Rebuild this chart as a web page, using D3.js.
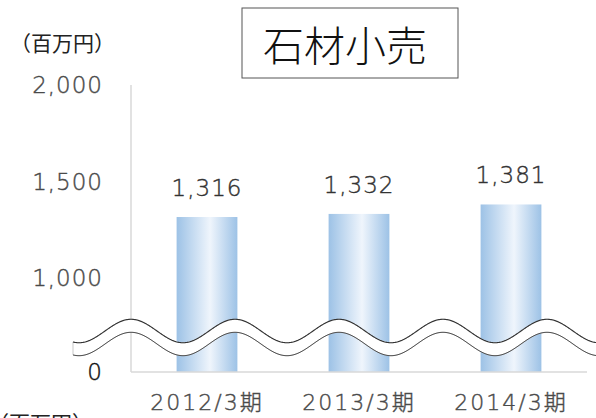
<!DOCTYPE html>
<html>
<head>
<meta charset="utf-8">
<script src="https://cdn.jsdelivr.net/npm/d3@7"></script>
<style>
  body { margin: 0; background: #fff; }
  svg { display: block; }
</style>
</head>
<body>
<div id="chart"></div>
<script>
// Chart data
const categories = ['2012/3期', '2013/3期', '2014/3期'];
const sales = [1316, 1332, 1381];
const tickValues = [0, 1000, 1500, 2000];
const tickLabels = ['0', '1,000', '1,500', '2,000'];
const title = '石材小売';
const unitLabel = '（百万円）';

const width = 596;
const height = 418;
const plot = { left: 131, right: 587, top: 85, bottom: 372 };

const svg = d3.select('#chart')
  .append('svg')
  .attr('width', width)
  .attr('height', height);

// Gradient for the bars
const grad = svg.append('defs').append('linearGradient')
  .attr('id', 'barGrad')
  .attr('x1', '0%').attr('x2', '100%')
  .attr('y1', '0%').attr('y2', '0%');
grad.append('stop').attr('offset', '0%').attr('stop-color', '#9dc2e6');
grad.append('stop').attr('offset', '55%').attr('stop-color', '#eff5fc');
grad.append('stop').attr('offset', '100%').attr('stop-color', '#9dc2e6');

// Scales (axis is broken between 0 and 1,000)
const xScale = d3.scaleBand()
  .domain(categories)
  .range([plot.left, plot.right])
  .paddingInner(0.6)
  .paddingOuter(0.3);

const yScale = d3.scaleLinear()
  .domain([0, 1000, 2000])
  .range([plot.bottom, 278, plot.top]);

const labelFont = '"DejaVu Sans", "Noto Sans CJK JP", sans-serif';

// Bars
svg.selectAll('.bar')
  .data(sales)
  .enter()
  .append('rect')
  .attr('class', 'bar')
  .attr('x', (d, i) => xScale(categories[i]))
  .attr('y', d => yScale(d))
  .attr('width', xScale.bandwidth())
  .attr('height', d => yScale(0) - yScale(d))
  .attr('fill', 'url(#barGrad)');

// Axis lines
svg.append('line')
  .attr('x1', plot.left).attr('x2', plot.left)
  .attr('y1', yScale(2000)).attr('y2', yScale(0))
  .attr('stroke', '#d9d9d9').attr('stroke-width', 1.5);
svg.append('line')
  .attr('x1', plot.left).attr('x2', plot.right)
  .attr('y1', yScale(0)).attr('y2', yScale(0))
  .attr('stroke', '#d9d9d9').attr('stroke-width', 1.5);

// Y tick labels
svg.selectAll('.ytick')
  .data(tickValues)
  .enter()
  .append('text')
  .attr('class', 'ytick')
  .attr('x', 103)
  .attr('y', d => yScale(d))
  .attr('dy', '0.36em')
  .attr('text-anchor', 'end')
  .attr('font-family', labelFont)
  .attr('font-weight', 200)
  .attr('font-size', 23)
  .attr('letter-spacing', 1)
  .attr('stroke', (d, i) => i === 0 ? '#111' : '#4a4a4a')
  .attr('stroke-width', 0.4)
  .attr('fill', (d, i) => i === 0 ? '#111' : '#4a4a4a')
  .text((d, i) => tickLabels[i]);

// X labels
svg.selectAll('.xlabel')
  .data(categories)
  .enter()
  .append('text')
  .attr('class', 'xlabel')
  .attr('x', d => xScale(d) + xScale.bandwidth() / 2)
  .attr('y', 410)
  .attr('text-anchor', 'middle')
  .attr('font-family', labelFont)
  .attr('font-weight', 200)
  .attr('font-size', 22)
  .attr('letter-spacing', 2)
  .attr('stroke', '#4a4a4a')
  .attr('stroke-width', 0.4)
  .attr('fill', '#4a4a4a')
  .text(d => d);

// Value labels
svg.selectAll('.value')
  .data(sales)
  .enter()
  .append('text')
  .attr('class', 'value')
  .attr('x', (d, i) => xScale(categories[i]) + xScale.bandwidth() / 2)
  .attr('y', d => yScale(d) - 21)
  .attr('text-anchor', 'middle')
  .attr('font-family', labelFont)
  .attr('font-weight', 200)
  .attr('font-size', 23)
  .attr('letter-spacing', 1)
  .attr('stroke', '#333')
  .attr('stroke-width', 0.4)
  .attr('fill', '#333')
  .text(d => d3.format(',')(d));

// Wave break mark
const period = 104;
const amp = 11.7;
const midY = 331;
const gap = 13;
const xs = d3.range(73, 601, 1);
const upper = xs.map(x => [x, midY - amp * Math.cos(2 * Math.PI * (x - plot.left) / period)]);
const lower = upper.map(p => [p[0], p[1] + gap]);

const line = d3.line();
svg.append('path')
  .attr('d', line(upper.concat(lower.slice().reverse())) + 'Z')
  .attr('fill', '#fff')
  .attr('stroke', '#bbb')
  .attr('stroke-width', 0.8);
svg.append('path')
  .attr('d', line(upper))
  .attr('fill', 'none')
  .attr('stroke', '#333')
  .attr('stroke-width', 1.1);
svg.append('path')
  .attr('d', line(lower))
  .attr('fill', 'none')
  .attr('stroke', '#444')
  .attr('stroke-width', 0.9);

// Unit labels
svg.append('text')
  .attr('x', 10)
  .attr('y', 43)
  .attr('dy', '0.36em')
  .attr('font-family', '"Noto Sans CJK JP", sans-serif')
  .attr('font-size', 21)
  .attr('fill', '#222')
  .text(unitLabel);
svg.append('text')
  .attr('x', -12)
  .attr('y', 423)
  .attr('dy', '0.36em')
  .attr('font-family', '"Noto Sans CJK JP", sans-serif')
  .attr('font-size', 21)
  .attr('fill', '#222')
  .text(unitLabel);

// Title box
svg.append('rect')
  .attr('x', 242).attr('y', 8)
  .attr('width', 216).attr('height', 70)
  .attr('fill', '#fff')
  .attr('stroke', '#555')
  .attr('stroke-width', 1);
svg.append('text')
  .attr('x', 345)
  .attr('y', 46)
  .attr('dy', '0.36em')
  .attr('text-anchor', 'middle')
  .attr('font-family', '"Noto Sans CJK JP", sans-serif')
  .attr('font-weight', 300)
  .attr('font-size', 41)
  .attr('fill', '#111')
  .text(title);
</script>
</body>
</html>
